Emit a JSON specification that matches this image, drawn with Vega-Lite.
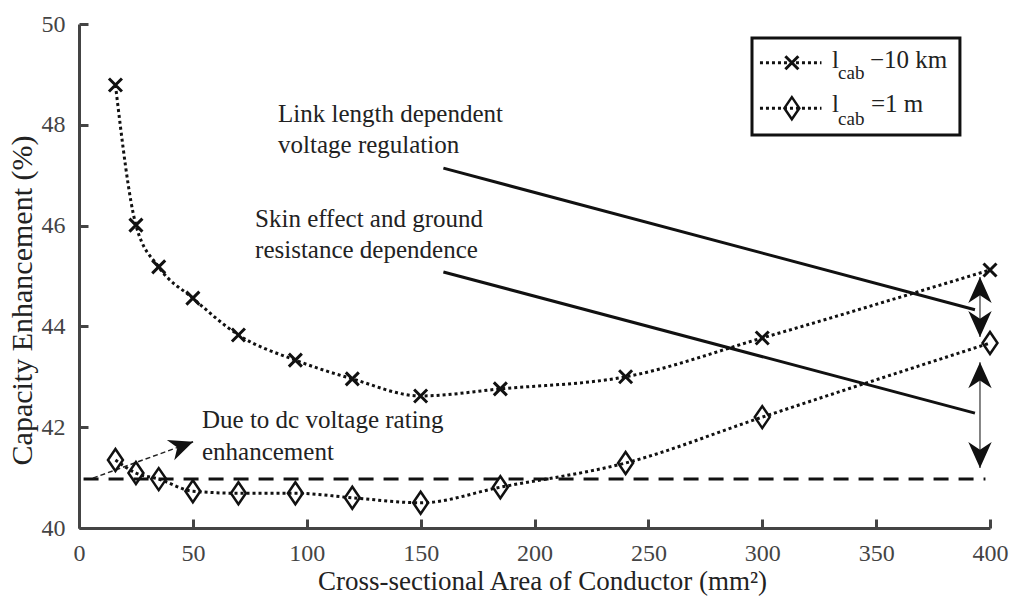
{
  "$schema": "https://vega.github.io/schema/vega-lite/v6.json",
  "width": 911,
  "height": 504,
  "autosize": {"type": "none"},
  "padding": {"left": 79, "top": 24, "right": 19, "bottom": 80},
  "background": "white",
  "config": {"view": {"stroke": null}, "font": "Liberation Serif"},
  "datasets": {
    "series": [
      {"x": 16, "y": 48.79, "cable": "10 km"},
      {"x": 25, "y": 46.01, "cable": "10 km"},
      {"x": 35, "y": 45.18, "cable": "10 km"},
      {"x": 50, "y": 44.56, "cable": "10 km"},
      {"x": 70, "y": 43.83, "cable": "10 km"},
      {"x": 95, "y": 43.33, "cable": "10 km"},
      {"x": 120, "y": 42.96, "cable": "10 km"},
      {"x": 150, "y": 42.62, "cable": "10 km"},
      {"x": 185, "y": 42.76, "cable": "10 km"},
      {"x": 240, "y": 43.0, "cable": "10 km"},
      {"x": 300, "y": 43.77, "cable": "10 km"},
      {"x": 400, "y": 45.12, "cable": "10 km"},
      {"x": 16, "y": 41.35, "cable": "1 m"},
      {"x": 25, "y": 41.09, "cable": "1 m"},
      {"x": 35, "y": 40.97, "cable": "1 m"},
      {"x": 50, "y": 40.73, "cable": "1 m"},
      {"x": 70, "y": 40.69, "cable": "1 m"},
      {"x": 95, "y": 40.69, "cable": "1 m"},
      {"x": 120, "y": 40.6, "cable": "1 m"},
      {"x": 150, "y": 40.5, "cable": "1 m"},
      {"x": 185, "y": 40.81, "cable": "1 m"},
      {"x": 240, "y": 41.29, "cable": "1 m"},
      {"x": 300, "y": 42.2, "cable": "1 m"},
      {"x": 400, "y": 43.67, "cable": "1 m"}
    ],
    "solidLines": [
      {"x": 160, "y": 47.14, "x2": 393.4, "y2": 44.33},
      {"x": 160, "y": 45.08, "x2": 393.4, "y2": 42.28}
    ],
    "refLine": [{"x": 2, "x2": 398, "y": 40.97}],
    "shafts": [
      {"x": 395.6, "y": 43.79, "y2": 44.98},
      {"x": 395.6, "y": 41.19, "y2": 43.29}
    ],
    "headsUp": [{"x": 395.6, "y": 44.98}, {"x": 395.6, "y": 43.29}],
    "headsDown": [{"x": 395.6, "y": 43.79}, {"x": 395.6, "y": 41.19}],
    "oblique": [{"x": 6.1, "y": 40.99, "x2": 50.1, "y2": 41.71}],
    "obliqueHead": [{"x": 50.1, "y": 41.71}],
    "notes": [
      {"x": 87.4, "y": 48.06, "text": "Link length dependent"},
      {"x": 87.4, "y": 47.44, "text": "voltage regulation"},
      {"x": 77.3, "y": 45.97, "text": "Skin effect and ground"},
      {"x": 77.3, "y": 45.36, "text": "resistance dependence"},
      {"x": 54.0, "y": 41.98, "text": "Due to dc voltage rating"},
      {"x": 54.0, "y": 41.35, "text": "enhancement"}
    ],
    "legendBox": [{"x": 295.5, "x2": 386.8, "y": 49.72, "y2": 47.8}],
    "legendLines": [
      {"x": 299, "x2": 326, "y": 49.23, "cable": "10 km"},
      {"x": 299, "x2": 326, "y": 48.33, "cable": "1 m"}
    ],
    "legendX": [{"x": 313, "y": 49.23}],
    "legendD": [{"x": 313, "y": 48.33}],
    "legendMain": [
      {"x": 330.6, "y": 49.13, "text": "l"},
      {"x": 347.3, "y": 49.13, "text": "−10 km"},
      {"x": 330.6, "y": 48.25, "text": "l"},
      {"x": 347.7, "y": 48.25, "text": "=1 m"}
    ],
    "legendSub": [
      {"x": 333.3, "y": 48.91, "text": "cab"},
      {"x": 333.3, "y": 48.0, "text": "cab"}
    ]
  },
  "encoding": {
    "x": {
      "field": "x",
      "type": "quantitative",
      "scale": {"domain": [0, 400], "nice": false, "zero": false},
      "axis": {
        "title": "Cross-sectional Area of Conductor (mm²)",
        "values": [0, 50, 100, 150, 200, 250, 300, 350, 400],
        "grid": false,
        "tickSize": -9,
        "tickWidth": 3,
        "tickColor": "#444",
        "domainWidth": 3,
        "domainColor": "#444",
        "labelFont": "Liberation Serif",
        "labelFontSize": 24,
        "labelColor": "#444",
        "labelPadding": 22,
        "labelFlush": false,
        "labelOverlap": false,
        "titleFont": "Liberation Serif",
        "titleFontSize": 27,
        "titleFontWeight": "normal",
        "titleColor": "#222",
        "titleX": 463,
        "titleY": 61,
        "titleBaseline": "alphabetic"
      }
    },
    "y": {
      "field": "y",
      "type": "quantitative",
      "scale": {"domain": [40, 50], "nice": false, "zero": false},
      "axis": {
        "title": "Capacity Enhancement (%)",
        "values": [40, 42, 44, 46, 48, 50],
        "grid": false,
        "tickSize": -9,
        "tickWidth": 3,
        "tickColor": "#444",
        "domainWidth": 3,
        "domainColor": "#444",
        "labelFont": "Liberation Serif",
        "labelFontSize": 24,
        "labelColor": "#444",
        "labelPadding": 23,
        "labelFlush": false,
        "labelOverlap": false,
        "titleFont": "Liberation Serif",
        "titleFontSize": 30,
        "titleFontWeight": "normal",
        "titleColor": "#222",
        "titleX": -57,
        "titleY": 276,
        "titleBaseline": "middle",
        "titleAngle": -90
      }
    }
  },
  "layer": [
    {
      "data": {"name": "refLine"},
      "mark": {"type": "rule", "strokeDash": [15, 10], "strokeWidth": 3, "color": "#111"},
      "encoding": {"x2": {"field": "x2"}}
    },
    {
      "data": {"name": "series"},
      "mark": {"type": "line", "interpolate": "monotone", "strokeDash": [3, 3], "strokeWidth": 3, "color": "#111"},
      "encoding": {"detail": {"field": "cable"}}
    },
    {
      "data": {"name": "solidLines"},
      "mark": {"type": "rule", "strokeWidth": 3, "color": "#111"},
      "encoding": {"x2": {"field": "x2"}, "y2": {"field": "y2"}}
    },
    {
      "data": {"name": "shafts"},
      "mark": {"type": "rule", "strokeWidth": 1.6, "color": "#666"},
      "encoding": {"y2": {"field": "y2"}}
    },
    {
      "data": {"name": "oblique"},
      "mark": {"type": "rule", "strokeWidth": 1.5, "strokeDash": [5, 3], "color": "#222"},
      "encoding": {"x2": {"field": "x2"}, "y2": {"field": "y2"}}
    },
    {
      "data": {"name": "headsUp"},
      "mark": {"type": "point", "shape": "M0,0L0.45,1L0,0.7L-0.45,1Z", "size": 2704, "filled": true, "fill": "#111", "strokeWidth": 0, "opacity": 1, "angle": 0}
    },
    {
      "data": {"name": "headsDown"},
      "mark": {"type": "point", "shape": "M0,0L0.45,1L0,0.7L-0.45,1Z", "size": 2704, "filled": true, "fill": "#111", "strokeWidth": 0, "opacity": 1, "angle": 180}
    },
    {
      "data": {"name": "obliqueHead"},
      "mark": {"type": "point", "shape": "M0,0L0.45,1L0,0.7L-0.45,1Z", "size": 2304, "filled": true, "fill": "#111", "strokeWidth": 0, "opacity": 1, "angle": 70}
    },
    {
      "data": {"name": "series"},
      "transform": [{"filter": "datum.cable === '10 km'"}],
      "mark": {"type": "point", "shape": "M-1,-1L1,1M-1,1L1,-1", "size": 169, "filled": false, "stroke": "#111", "strokeWidth": 3, "opacity": 1}
    },
    {
      "data": {"name": "series"},
      "transform": [{"filter": "datum.cable === '1 m'"}],
      "mark": {"type": "point", "shape": "M0,-1L0.68,0L0,1L-0.68,0Z", "size": 484, "filled": false, "stroke": "#111", "strokeWidth": 2.5, "opacity": 1}
    },
    {
      "data": {"name": "notes"},
      "mark": {"type": "text", "align": "left", "baseline": "alphabetic", "font": "Liberation Serif", "fontSize": 25, "color": "#222"},
      "encoding": {"text": {"field": "text"}}
    },
    {
      "data": {"name": "legendBox"},
      "mark": {"type": "rect", "fill": "white", "stroke": "#111", "strokeWidth": 3},
      "encoding": {"x2": {"field": "x2"}, "y2": {"field": "y2"}}
    },
    {
      "data": {"name": "legendLines"},
      "mark": {"type": "rule", "strokeDash": [3, 3], "strokeWidth": 3, "color": "#111"},
      "encoding": {"x2": {"field": "x2"}}
    },
    {
      "data": {"name": "legendX"},
      "mark": {"type": "point", "shape": "M-1,-1L1,1M-1,1L1,-1", "size": 169, "filled": false, "stroke": "#111", "strokeWidth": 3, "opacity": 1}
    },
    {
      "data": {"name": "legendD"},
      "mark": {"type": "point", "shape": "M0,-1L0.68,0L0,1L-0.68,0Z", "size": 484, "filled": false, "stroke": "#111", "strokeWidth": 2.5, "opacity": 1}
    },
    {
      "data": {"name": "legendMain"},
      "mark": {"type": "text", "align": "left", "baseline": "alphabetic", "font": "Liberation Serif", "fontSize": 25, "color": "#222"},
      "encoding": {"text": {"field": "text"}}
    },
    {
      "data": {"name": "legendSub"},
      "mark": {"type": "text", "align": "left", "baseline": "alphabetic", "font": "Liberation Serif", "fontSize": 19, "color": "#222"},
      "encoding": {"text": {"field": "text"}}
    }
  ]
}
